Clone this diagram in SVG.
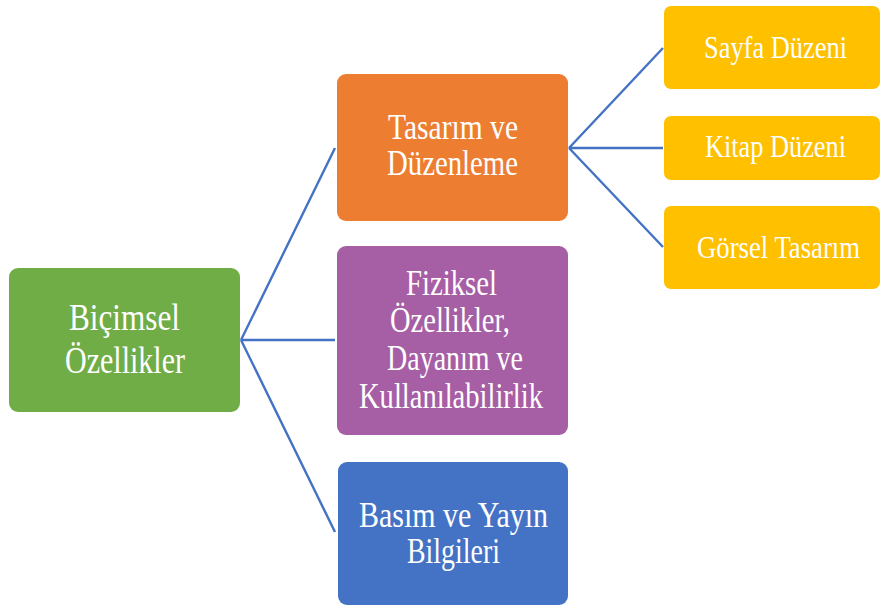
<svg xmlns="http://www.w3.org/2000/svg" width="882" height="606" viewBox="0 0 882 606">
<style>
.box{stroke:none}
.t{font-family:"Liberation Serif","Times New Roman",serif;fill:#fff;text-anchor:start}
.big{font-size:38px}
.mid{font-size:35px}
.sm{font-size:32px}
.c{fill:none;stroke:#4472C4;stroke-width:2.4}
</style>
<rect width="882" height="606" fill="#fff"/>
<g id="connectors">
<path class="c" d="M241,340 L335,148 M241,340 L335,340 M241,340 L335,532"/>
<path class="c" d="M569,148 L663,48 M569,148 L663,148 M569,148 L663,247"/>
</g>
<g id="bicimsel">
<rect class="box" x="9" y="268" width="231" height="144" rx="9" fill="#70AD47"/>
<text class="t big" x="69" y="330" textLength="111" lengthAdjust="spacingAndGlyphs">Biçimsel</text>
<text class="t big" x="65" y="373" textLength="120" lengthAdjust="spacingAndGlyphs">Özellikler</text>
</g>
<g id="tasarim">
<rect class="box" x="337" y="74" width="231" height="147" rx="9" fill="#ED7D31"/>
<text class="t mid" x="388" y="139" textLength="130" lengthAdjust="spacingAndGlyphs">Tasarım ve</text>
<text class="t mid" x="387" y="175" textLength="131" lengthAdjust="spacingAndGlyphs">Düzenleme</text>
</g>
<g id="fiziksel">
<rect class="box" x="337" y="246" width="231" height="189" rx="9" fill="#A65EA5"/>
<text class="t mid" x="406" y="295" textLength="91" lengthAdjust="spacingAndGlyphs">Fiziksel</text>
<text class="t mid" x="390" y="332" textLength="120" lengthAdjust="spacingAndGlyphs">Özellikler,</text>
<text class="t mid" x="387" y="370" textLength="136" lengthAdjust="spacingAndGlyphs">Dayanım ve</text>
<text class="t mid" x="359" y="408" textLength="184" lengthAdjust="spacingAndGlyphs">Kullanılabilirlik</text>
</g>
<g id="basim">
<rect class="box" x="338" y="462" width="230" height="143" rx="9" fill="#4472C4"/>
<text class="t mid" x="359" y="527" textLength="189" lengthAdjust="spacingAndGlyphs">Basım ve Yayın</text>
<text class="t mid" x="407" y="563" textLength="93" lengthAdjust="spacingAndGlyphs">Bilgileri</text>
</g>
<g id="sayfa">
<rect class="box" x="664" y="6" width="216" height="83" rx="7" fill="#FFC000"/>
<text class="t sm" x="704" y="58" textLength="143" lengthAdjust="spacingAndGlyphs">Sayfa Düzeni</text>
</g>
<g id="kitap">
<rect class="box" x="664" y="116" width="216" height="64" rx="7" fill="#FFC000"/>
<text class="t sm" x="705" y="157" textLength="141" lengthAdjust="spacingAndGlyphs">Kitap Düzeni</text>
</g>
<g id="gorsel">
<rect class="box" x="664" y="206" width="216" height="83" rx="7" fill="#FFC000"/>
<text class="t sm" x="697" y="258" textLength="163" lengthAdjust="spacingAndGlyphs">Görsel Tasarım</text>
</g>
</svg>
